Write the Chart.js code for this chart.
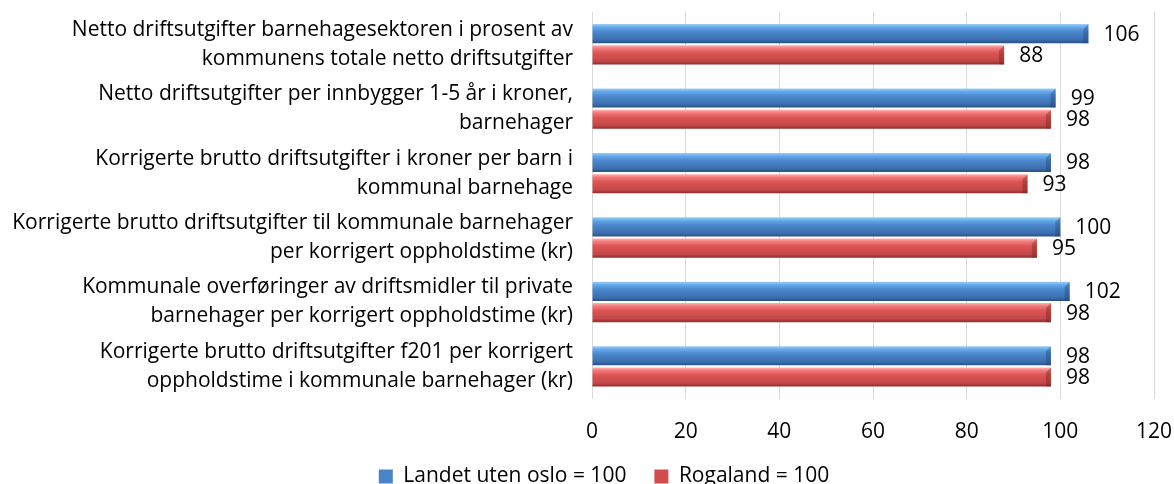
<!DOCTYPE html>
<html>
<head>
<meta charset="utf-8">
<script src="https://cdn.jsdelivr.net/npm/chart.js@4/dist/chart.umd.min.js"></script>
<style>
  html, body { margin: 0; padding: 0; background: #fff; }
  #wrap { width: 1174px; height: 484px; }
</style>
</head>
<body>
<div id="wrap"><canvas id="chart"></canvas></div>
<script>
// category labels, split in lines as in the original
const categories = [
  ['Netto driftsutgifter barnehagesektoren i prosent av', 'kommunens totale netto driftsutgifter'],
  ['Netto driftsutgifter per innbygger 1-5 år i kroner,', 'barnehager'],
  ['Korrigerte brutto driftsutgifter i kroner per barn i', 'kommunal barnehage'],
  ['Korrigerte brutto driftsutgifter til kommunale barnehager', 'per korrigert oppholdstime (kr)'],
  ['Kommunale overføringer av driftsmidler til private', 'barnehager per korrigert oppholdstime (kr)'],
  ['Korrigerte brutto driftsutgifter f201 per korrigert', 'oppholdstime i kommunale barnehager (kr)']
];
const landetValues = [106, 99, 98, 100, 102, 98];
const rogalandValues = [88, 98, 93, 95, 98, 98];
const seriesNames = ['Landet uten oslo = 100', 'Rogaland = 100'];
const xTicks = [0, 20, 40, 60, 80, 100, 120];

const FONT = { family: '"Open Sans", sans-serif', size: 21 };

// vertical shading for the "3d" bars (top to bottom)
const shades = [
  [[0, '#9ccff9'], [0.16, '#66aaea'], [0.4, '#4b88cd'], [0.82, '#3c6fae'], [1, '#27508a']],
  [[0, '#ffb0b0'], [0.16, '#f27a7a'], [0.4, '#dd5454'], [0.82, '#c34848'], [1, '#8e2c2c']]
];

const barShade = {
  id: 'barShade',
  afterLayout(chart) {
    // excel centres the legend a little right of the canvas middle
    chart.legend.left += 27;
    chart.legend.right += 27;
  },
  beforeDatasetsDraw(chart) {
    const ctx = chart.ctx;
    chart.data.datasets.forEach((ds, di) => {
      chart.getDatasetMeta(di).data.forEach(bar => {
        const top = bar.y - bar.height / 2;
        const g = ctx.createLinearGradient(0, top, 0, top + bar.height);
        shades[di].forEach(([o, c]) => g.addColorStop(o, c));
        bar.options.backgroundColor = g;
      });
    });
  },
  afterDatasetsDraw(chart) {
    const ctx = chart.ctx;
    ctx.save();
    ctx.font = FONT.size + 'px ' + FONT.family;
    ctx.textAlign = 'left';
    ctx.textBaseline = 'middle';
    chart.data.datasets.forEach((ds, di) => {
      chart.getDatasetMeta(di).data.forEach((bar, i) => {
        // darker end cap to mimic the bevel
        const top = bar.y - bar.height / 2;
        ctx.fillStyle = di === 0 ? 'rgba(30,60,110,0.35)' : 'rgba(110,25,25,0.35)';
        ctx.beginPath();
        ctx.moveTo(bar.x - 5, top + 5);
        ctx.lineTo(bar.x, top);
        ctx.lineTo(bar.x, top + bar.height);
        ctx.lineTo(bar.x - 5, top + bar.height);
        ctx.closePath();
        ctx.fill();
        ctx.fillStyle = '#000';
        ctx.fillText(ds.data[i], bar.x + 15, bar.y + 1);
      });
    });
    ctx.restore();
  }
};

new Chart(document.getElementById('chart'), {
  type: 'bar',
  data: {
    labels: categories,
    datasets: [
      {
        label: seriesNames[0],
        data: landetValues,
        backgroundColor: () => '#4a84c8',
        categoryPercentage: 0.66,
        barPercentage: 0.9
      },
      {
        label: seriesNames[1],
        data: rogalandValues,
        backgroundColor: () => '#d24c4c',
        categoryPercentage: 0.66,
        barPercentage: 0.9
      }
    ]
  },
  options: {
    indexAxis: 'y',
    responsive: true,
    maintainAspectRatio: false,
    animation: false,
    layout: { padding: { top: 12, left: 0, right: 20, bottom: -13 } },
    plugins: {
      legend: {
        position: 'bottom',
        labels: {
          boxWidth: 14,
          boxHeight: 14,
          padding: 28,
          color: '#000',
          font: FONT
        }
      },
      tooltip: { enabled: false }
    },
    scales: {
      x: {
        min: 0,
        max: 120,
        afterBuildTicks: (scale) => { scale.ticks = xTicks.map(v => ({ value: v })); },
        ticks: { color: '#000', font: FONT, padding: 21 },
        grid: { color: '#d9d9d9', drawTicks: false },
        border: { display: false },
        afterFit: (scale) => {
          scale.height = 39.4;
          scale.paddingLeft = 0;
          scale.paddingRight = 0;
        }
      },
      y: {
        ticks: { color: '#000', font: { ...FONT, lineHeight: '29px' }, padding: 11 },
        grid: { display: false },
        border: { display: false },
        afterFit: (scale) => {
          scale.width = 592;
          scale.paddingTop = 0;
          scale.paddingBottom = 0;
        }
      }
    }
  },
  plugins: [barShade]
});
</script>
</body>
</html>
